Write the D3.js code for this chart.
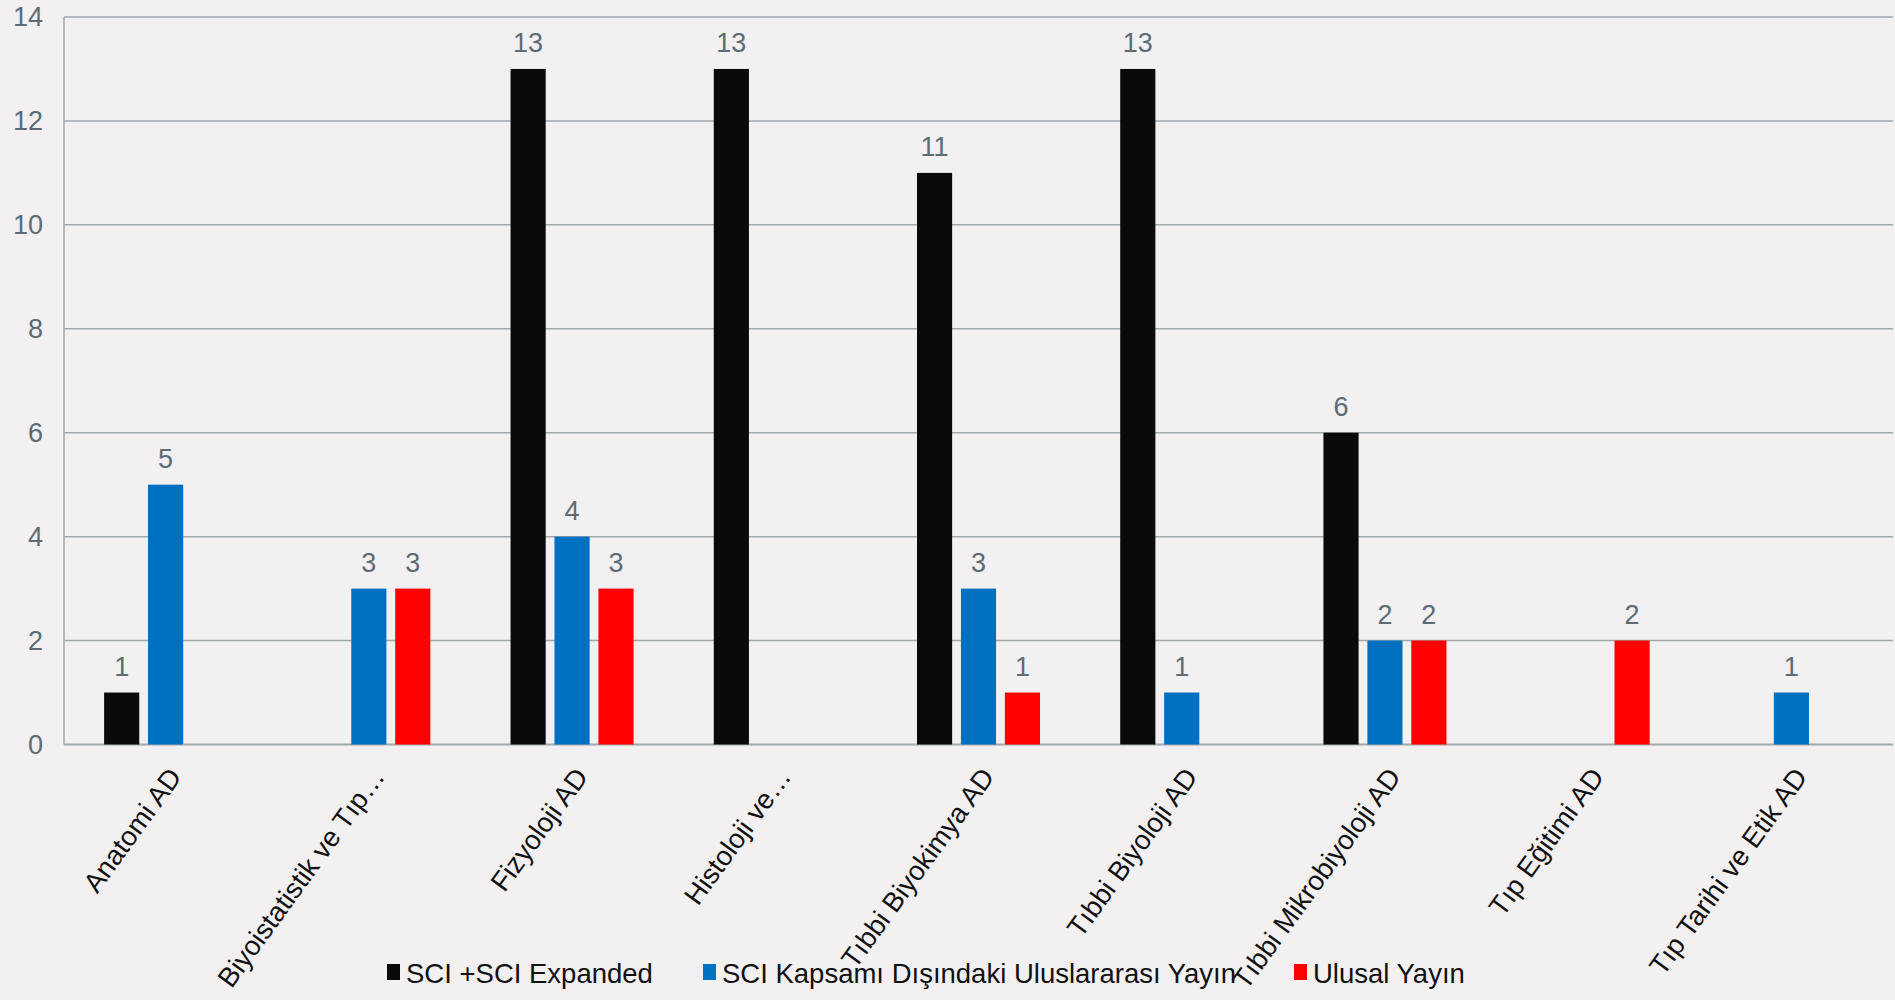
<!DOCTYPE html>
<html>
<head>
<meta charset="utf-8">
<script src="https://cdn.jsdelivr.net/npm/d3@7"></script>
<style>
  html, body { margin: 0; padding: 0; background: #f2f0f1; }
  svg { display: block; font-family: "Liberation Sans", Arial, sans-serif; }
</style>
</head>
<body>
<div id="chart"></div>
<script>
var categories = ["Anatomi AD", "Biyoistatistik ve Tıp…", "Fizyoloji AD", "Histoloji ve…",
  "Tıbbi Biyokimya AD", "Tıbbi Biyoloji AD", "Tıbbi Mikrobiyoloji AD", "Tıp Eğitimi AD", "Tıp Tarihi ve Etik AD"];
var seriesNames = ["SCI +SCI Expanded", "SCI Kapsamı Dışındaki Uluslararası Yayın", "Ulusal Yayın"];
var sciValues = [1, 0, 13, 13, 11, 13, 6, 0, 0];
var intlValues = [5, 3, 4, 0, 3, 1, 2, 0, 1];
var ulusalValues = [0, 3, 3, 0, 1, 0, 2, 2, 0];
var yTicks = [0, 2, 4, 6, 8, 10, 12, 14];
var colors = ["#0a0a0a", "#0070c0", "#ff0000"];

var width = 1895, height = 1000;
var plotLeft = 64, plotRight = 1893, plotTop = 17, plotBottom = 744.5;
var allValues = [sciValues, intlValues, ulusalValues];

var svg = d3.select("#chart").append("svg")
  .attr("width", width).attr("height", height);

svg.append("rect").attr("width", width).attr("height", height).attr("fill", "#f2f0f1");

var x0 = d3.scaleBand().domain(categories).range([plotLeft, plotRight]);
var x1 = d3.scaleBand().domain(d3.range(3)).range([0, 123]).paddingInner(0.2);
var y = d3.scaleLinear().domain([0, 14]).range([plotBottom, plotTop]);

// gridlines
svg.append("g").selectAll("line").data(yTicks).join("line")
  .attr("x1", plotLeft).attr("x2", plotRight)
  .attr("y1", function(d) { return y(d); }).attr("y2", function(d) { return y(d); })
  .attr("stroke", "#a2a7ab").attr("stroke-width", function(d) { return d === 0 ? 2 : 1.5; });

svg.append("line").attr("x1", plotLeft).attr("x2", plotLeft).attr("y1", plotTop).attr("y2", plotBottom)
  .attr("stroke", "#a2a7ab").attr("stroke-width", 1.5);

// y tick labels
svg.append("g").selectAll("text").data(yTicks).join("text")
  .attr("x", 43).attr("y", function(d) { return y(d); }).attr("dy", "0.35em")
  .attr("text-anchor", "end").attr("font-size", 27).attr("fill", "#5d6b75")
  .text(function(d) { return d; });

// bars
var rows = [];
categories.forEach(function(c, i) {
  allValues.forEach(function(vals, s) {
    if (vals[i] > 0) rows.push({ cat: c, s: s, v: vals[i] });
  });
});

var groupOffset = (x0.bandwidth() - 123) / 2;

svg.append("g").selectAll("rect").data(rows).join("rect")
  .attr("x", function(d) { return x0(d.cat) + groupOffset + x1(d.s); })
  .attr("y", function(d) { return y(d.v); })
  .attr("width", x1.bandwidth())
  .attr("height", function(d) { return y(0) - y(d.v); })
  .attr("fill", function(d) { return colors[d.s]; });

svg.append("g").selectAll("text").data(rows).join("text")
  .attr("x", function(d) { return x0(d.cat) + groupOffset + x1(d.s) + x1.bandwidth() / 2; })
  .attr("y", function(d) { return y(d.v) - 17; })
  .attr("text-anchor", "middle").attr("font-size", 27).attr("fill", "#5d6b75")
  .text(function(d) { return d.v; });

// category labels
svg.append("g").selectAll("text").data(categories).join("text")
  .attr("transform", function(d) {
    return "translate(" + (x0(d) + x0.bandwidth() / 2 + 17) + ",777) rotate(-54)";
  })
  .attr("text-anchor", "end").attr("font-size", 27.5)
  .attr("fill", "#111")
  .text(function(d) { return d; });

// legend
var legendX = [387, 703, 1294];
var legend = svg.append("g").selectAll("g").data(seriesNames).join("g")
  .attr("transform", function(d, i) { return "translate(" + legendX[i] + ",980)"; });
legend.append("rect").attr("x", 0).attr("y", -16).attr("width", 13).attr("height", 16)
  .attr("fill", function(d, i) { return colors[i]; });
legend.append("text").attr("x", 19).attr("y", 0).attr("dy", "0.1em")
  .attr("font-size", 27.5).attr("fill", "#111")
  .text(function(d) { return d; });
</script>
</body>
</html>
